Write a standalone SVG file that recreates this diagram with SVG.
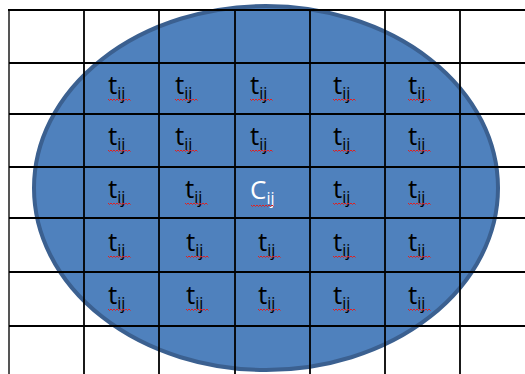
<svg xmlns="http://www.w3.org/2000/svg" xmlns:xlink="http://www.w3.org/1999/xlink" width="525" height="374" viewBox="0 0 525 374">
  <style>
    .grid { stroke: #000; stroke-width: 1.8; fill: none; }
    .edge { stroke: #555; stroke-width: 2; fill: none; }
    .lbl { font-family: "Open Sans", "Noto Sans", sans-serif; font-size: 26px; fill: #000; }
    .lbl.hi { fill: #fff; }
    .sub { font-size: 16px; }
    .sq { stroke: #e02020; stroke-width: 1; fill: none; }
  </style>
  <defs>
    <!-- spell-check squiggle under each label -->
    <path id="squiggle" class="sq" d="M0,0 l1.5,1.5 l1.5,-1.5 l1.5,1.5 l1.5,-1.5 l1.5,1.5 l1.5,-1.5 l1.5,1.5 l1.5,-1.5 l1.5,1.5 l1.5,-1.5 l1.5,1.5 l1.5,-1.5 l1.5,1.5 l1.5,-1.5 l1.5,1.5"/>
  </defs>
  <rect width="525" height="374" fill="#fff"/>

  <!-- neighbourhood ellipse -->
  <g id="region">
    <ellipse cx="266" cy="188" rx="232" ry="182" fill="#4f81bd" stroke="#3b6090" stroke-width="4"/>
  </g>

  <!-- table grid -->
  <g id="grid">
    <line class="edge" x1="9" y1="10" x2="9" y2="374"/>
    <line class="grid" x1="8" y1="10" x2="525" y2="10" stroke-width="2.2"/>
    <line class="grid" x1="9" y1="63" x2="525" y2="63"/>
    <line class="grid" x1="9" y1="114" x2="525" y2="114"/>
    <line class="grid" x1="9" y1="167" x2="525" y2="167"/>
    <line class="grid" x1="9" y1="218" x2="525" y2="218"/>
    <line class="grid" x1="9" y1="272" x2="525" y2="272"/>
    <line class="grid" x1="9" y1="326" x2="525" y2="326"/>
    <line class="grid" x1="84" y1="10" x2="84" y2="374"/>
    <line class="grid" x1="159" y1="10" x2="159" y2="374"/>
    <line class="grid" x1="235" y1="10" x2="235" y2="374"/>
    <line class="grid" x1="310" y1="10" x2="310" y2="374"/>
    <line class="grid" x1="385" y1="10" x2="385" y2="374"/>
    <line class="grid" x1="460" y1="10" x2="460" y2="374"/>
  </g>

  <!-- row 1 -->
  <g id="t-1-1"><text class="lbl" x="108" y="94">t<tspan class="sub" dy="5">ij</tspan></text><use xlink:href="#squiggle" x="108" y="99"/></g>
  <g id="t-1-2"><text class="lbl" x="175" y="94">t<tspan class="sub" dy="5">ij</tspan></text><use xlink:href="#squiggle" x="175" y="99"/></g>
  <g id="t-1-3"><text class="lbl" x="250" y="94">t<tspan class="sub" dy="5">ij</tspan></text><use xlink:href="#squiggle" x="250" y="99"/></g>
  <g id="t-1-4"><text class="lbl" x="333" y="94">t<tspan class="sub" dy="5">ij</tspan></text><use xlink:href="#squiggle" x="333" y="99"/></g>
  <g id="t-1-5"><text class="lbl" x="408" y="94">t<tspan class="sub" dy="5">ij</tspan></text><use xlink:href="#squiggle" x="408" y="99"/></g>

  <!-- row 2 -->
  <g id="t-2-1"><text class="lbl" x="108" y="145">t<tspan class="sub" dy="5">ij</tspan></text><use xlink:href="#squiggle" x="108" y="150"/></g>
  <g id="t-2-2"><text class="lbl" x="175" y="145">t<tspan class="sub" dy="5">ij</tspan></text><use xlink:href="#squiggle" x="175" y="150"/></g>
  <g id="t-2-3"><text class="lbl" x="250" y="145">t<tspan class="sub" dy="5">ij</tspan></text><use xlink:href="#squiggle" x="250" y="150"/></g>
  <g id="t-2-4"><text class="lbl" x="333" y="145">t<tspan class="sub" dy="5">ij</tspan></text><use xlink:href="#squiggle" x="333" y="150"/></g>
  <g id="t-2-5"><text class="lbl" x="408" y="145">t<tspan class="sub" dy="5">ij</tspan></text><use xlink:href="#squiggle" x="408" y="150"/></g>

  <!-- row 3 (centre cell) -->
  <g id="t-3-1"><text class="lbl" x="108" y="198">t<tspan class="sub" dy="5">ij</tspan></text><use xlink:href="#squiggle" x="108" y="203"/></g>
  <g id="t-3-2"><text class="lbl" x="185" y="198">t<tspan class="sub" dy="5">ij</tspan></text><use xlink:href="#squiggle" x="185" y="203"/></g>
  <g id="c-3-3"><text class="lbl hi" x="250" y="199">C<tspan class="sub" dy="5">ij</tspan></text><use xlink:href="#squiggle" x="251" y="205"/></g>
  <g id="t-3-4"><text class="lbl" x="333" y="198">t<tspan class="sub" dy="5">ij</tspan></text><use xlink:href="#squiggle" x="333" y="203"/></g>
  <g id="t-3-5"><text class="lbl" x="408" y="198">t<tspan class="sub" dy="5">ij</tspan></text><use xlink:href="#squiggle" x="408" y="203"/></g>

  <!-- row 4 -->
  <g id="t-4-1"><text class="lbl" x="108" y="251">t<tspan class="sub" dy="5">ij</tspan></text><use xlink:href="#squiggle" x="108" y="256"/></g>
  <g id="t-4-2"><text class="lbl" x="186" y="251">t<tspan class="sub" dy="5">ij</tspan></text><use xlink:href="#squiggle" x="186" y="256"/></g>
  <g id="t-4-3"><text class="lbl" x="258" y="251">t<tspan class="sub" dy="5">ij</tspan></text><use xlink:href="#squiggle" x="258" y="256"/></g>
  <g id="t-4-4"><text class="lbl" x="333" y="251">t<tspan class="sub" dy="5">ij</tspan></text><use xlink:href="#squiggle" x="333" y="256"/></g>
  <g id="t-4-5"><text class="lbl" x="408" y="251">t<tspan class="sub" dy="5">ij</tspan></text><use xlink:href="#squiggle" x="408" y="256"/></g>

  <!-- row 5 -->
  <g id="t-5-1"><text class="lbl" x="108" y="304">t<tspan class="sub" dy="5">ij</tspan></text><use xlink:href="#squiggle" x="108" y="309"/></g>
  <g id="t-5-2"><text class="lbl" x="186" y="304">t<tspan class="sub" dy="5">ij</tspan></text><use xlink:href="#squiggle" x="186" y="309"/></g>
  <g id="t-5-3"><text class="lbl" x="258" y="304">t<tspan class="sub" dy="5">ij</tspan></text><use xlink:href="#squiggle" x="258" y="309"/></g>
  <g id="t-5-4"><text class="lbl" x="333" y="304">t<tspan class="sub" dy="5">ij</tspan></text><use xlink:href="#squiggle" x="333" y="309"/></g>
  <g id="t-5-5"><text class="lbl" x="408" y="304">t<tspan class="sub" dy="5">ij</tspan></text><use xlink:href="#squiggle" x="408" y="309"/></g>
</svg>
